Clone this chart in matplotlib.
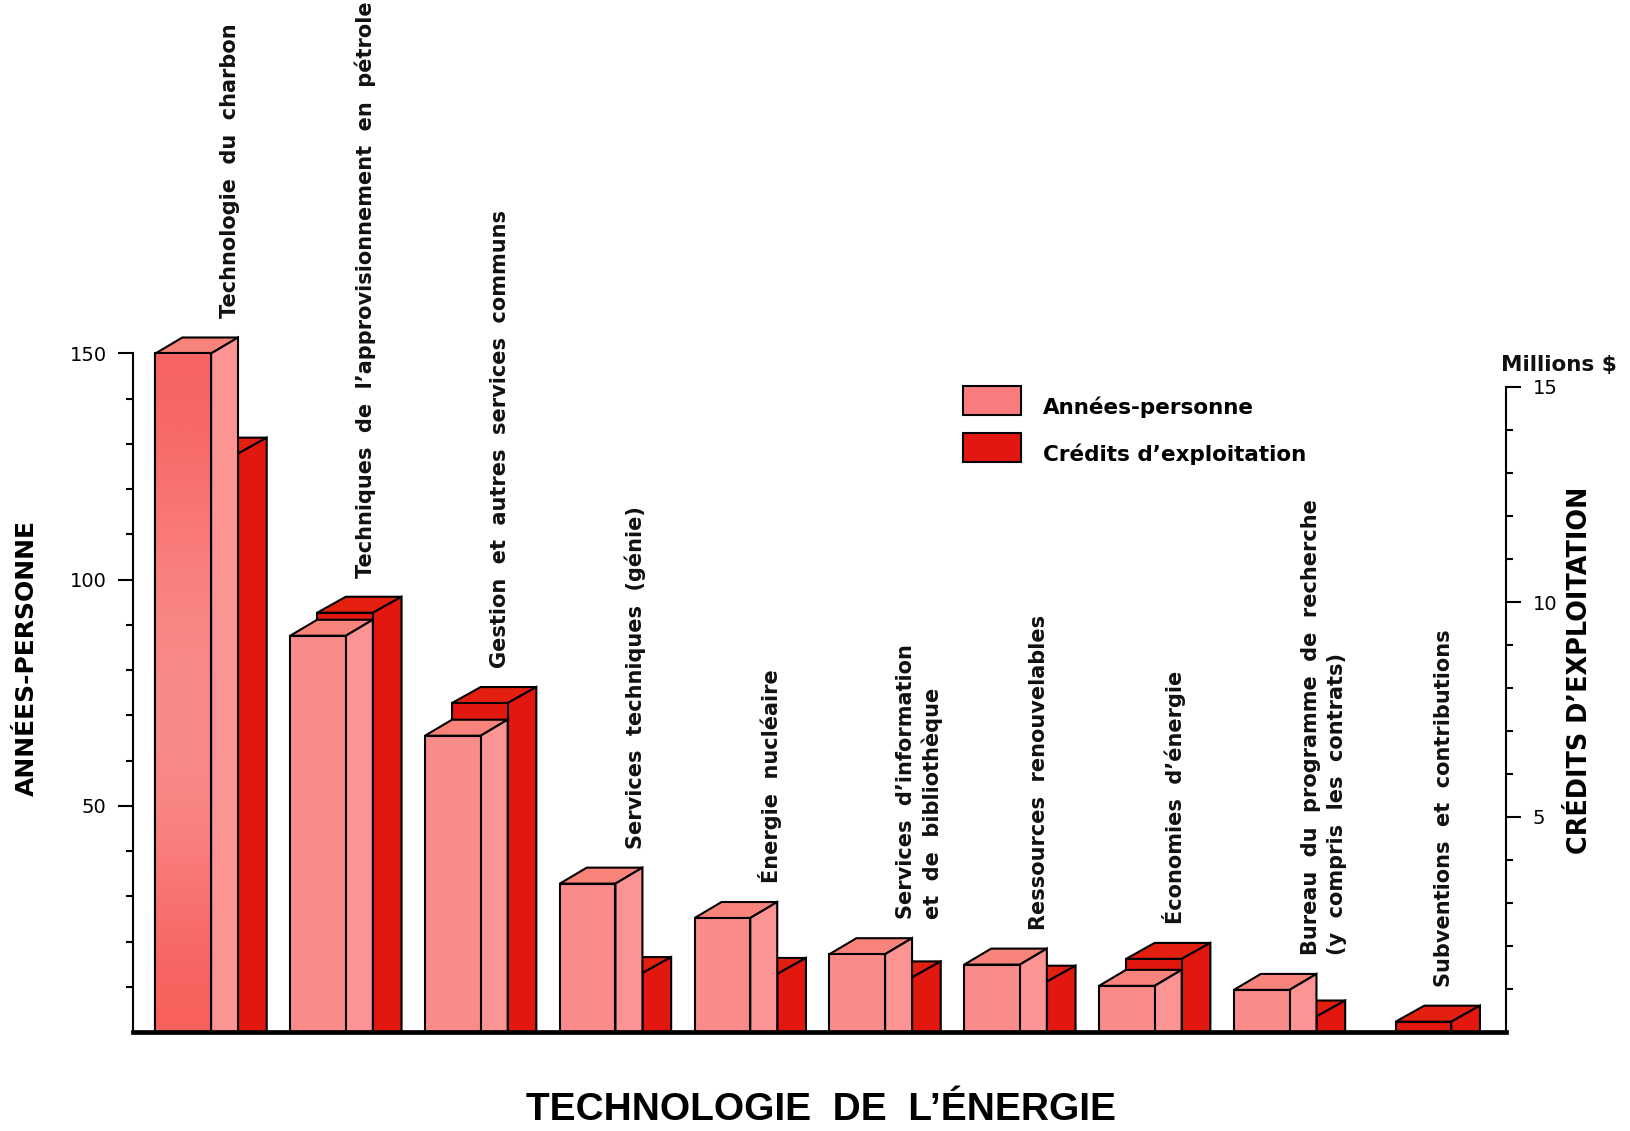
import matplotlib
matplotlib.use("Agg")
import matplotlib.pyplot as plt
import numpy as np
from matplotlib.patches import Patch, Polygon

W, H = 1630, 1131

labels = [
    "Technologie  du  charbon",
    "Techniques  de  l’approvisionnement  en  pétrole",
    "Gestion  et  autres  services  communs",
    "Services  techniques  (génie)",
    "Énergie  nucléaire",
    "Services  d’information\net  de  bibliothèque",
    "Ressources  renouvelables",
    "Économies  d’énergie",
    "Bureau  du  programme  de  recherche\n(y  compris  les  contrats)",
    "Subventions  et  contributions",
]
annees_personne = [150, 87.6, 65.5, 32.8, 25.2, 17.2, 14.9, 10.2, 9.3, 0]
credits_expl = [13.45, 9.75, 7.65, 1.37, 1.35, 1.27, 1.17, 1.7, 0.36, 0.24]

left_ticks = [50, 100, 150]
left_minor = [10, 20, 30, 40, 60, 70, 80, 90, 110, 120, 130, 140]
right_ticks = [5, 10, 15]
right_minor = [1, 2, 3, 4, 6, 7, 8, 9, 11, 12, 13, 14]

PINK_FRONT = "#f98c8b"
PINK_SIDE = "#fb9492"
PINK_TOP = "#f8837a"
RED = "#e2170f"
RED_TOP = "#e3200f"

# one group of bars is 1.0 on the x axis
bar_w = 0.413
dx = 0.2
dx_red = 0.213
offs = 0.2

fig = plt.figure(figsize=(W / 100, H / 100), dpi=100)
ax = fig.add_axes([133 / W, 1 - 1032 / H, (1506 - 133) / W, (1032 - 353.5) / H])
ax2 = ax.twinx()
ax.set_zorder(2)
ax.patch.set_visible(False)

xlim = (-0.166, 10.019)
ax.set_xlim(*xlim)
ax.set_ylim(0, 150)
ax2.set_ylim(0, 678.5 / 43.0)

dy_l = 16 / (678.5 / 150)
dy_r = 16 / 43.0


def draw_box(a, x0, val, w, dep_x, dep_y, front, side, top):
    y = val
    kw = dict(ec="black", lw=1.5, joinstyle="miter", clip_on=False)
    a.add_patch(Polygon([(x0, y), (x0 + dep_x, y + dep_y), (x0 + w + dep_x, y + dep_y), (x0 + w, y)], fc=top, **kw))
    a.add_patch(Polygon([(x0 + w, 0), (x0 + w + dep_x, 0), (x0 + w + dep_x, y + dep_y), (x0 + w, y)], fc=side, **kw))
    p = Polygon([(x0, 0), (x0 + w, 0), (x0 + w, y), (x0, y)], fc=front, **kw)
    a.add_patch(p)
    return p


for i in range(len(labels)):
    # red box stands right behind the pink one
    draw_box(ax2, i + offs, credits_expl[i], bar_w, dx_red, dy_r, RED, RED, RED_TOP)
    if annees_personne[i] > 0:
        p = draw_box(ax, i, annees_personne[i], bar_w, dx, dy_l, PINK_FRONT, PINK_SIDE, PINK_TOP)
        if i == 0:
            # the tallest bar is a stronger red at both ends
            g = np.array([[0.1], [0.75], [1.0], [0.9], [0.0]])
            cm = matplotlib.colors.LinearSegmentedColormap.from_list("f", ["#f75f5c", "#f98c8a"])
            im = ax.imshow(g, extent=(i, i + bar_w, 0, annees_personne[i]), aspect="auto", cmap=cm,
                           interpolation="bicubic", zorder=1.5, vmin=0, vmax=1)
            im.set_clip_path(p)
            ax.add_patch(Polygon(p.get_xy(), fc="none", ec="black", lw=1.5, zorder=2, clip_on=False))

ax.set_xlim(*xlim)
ax.set_ylim(0, 150)

# category names sit above the highest corner of each group
for i, txt in enumerate(labels):
    p1 = ax.transData.transform((i, annees_personne[i] + dy_l))[1] if annees_personne[i] > 0 else 0
    p2 = ax2.transData.transform((i, credits_expl[i] + dy_r))[1]
    top = max(p1, p2)
    y_txt = ax.transData.inverted().transform((0, top))[1]
    xoff = 90 if "\n" in txt else 75
    ax.annotate(txt, xy=(i, y_txt), xytext=(xoff * 0.72, 19 * 0.72), textcoords="offset points",
                rotation=90, ha="center", va="bottom", multialignment="left",
                fontsize=15, weight="bold", linespacing=1.35, annotation_clip=False, color="#111111")

for s in ["top", "right", "bottom"]:
    ax.spines[s].set_visible(False)
for s in ["top", "left", "bottom"]:
    ax2.spines[s].set_visible(False)
ax.spines["left"].set_linewidth(1.5)
ax.spines["left"].set_bounds(0, 150)
ax2.spines["right"].set_linewidth(1.5)
ax2.spines["right"].set_bounds(0, 15)

ax.set_xticks([])
ax2.set_xticks([])
ax.set_yticks(left_ticks)
ax.set_yticks(left_minor, minor=True)
ax2.set_yticks(right_ticks)
ax2.set_yticks(right_minor, minor=True)
ax.tick_params(axis="y", which="major", length=11, width=1.5, labelsize=14, pad=8)
ax.tick_params(axis="y", which="minor", length=5, width=1.5)
ax2.tick_params(axis="y", which="major", length=11, width=1.5, labelsize=14, pad=8)
ax2.tick_params(axis="y", which="minor", length=5, width=1.5)

# heavy ground line
ax.axhline(0, color="black", lw=3.4, clip_on=False, zorder=5)

fig.text(27 / W, 1 - 658 / H, "ANNÉES-PERSONNE", rotation=90, ha="center", va="center",
         weight="bold", fontsize=18)
fig.text(1580 / W, 1 - 670 / H, "CRÉDITS D’EXPLOITATION", rotation=90, ha="center", va="center",
         weight="bold", fontsize=18.4)
fig.text(1559 / W, 1 - 365 / H, "Millions $", ha="center", va="center", fontsize=15.5, weight="bold", color="#111111")
fig.text(821 / W, 1 - 1110 / H, "TECHNOLOGIE  DE  L’ÉNERGIE", ha="center", va="center",
         family="Liberation Sans", weight="bold", fontsize=28)

leg = ax.legend(handles=[Patch(fc="#f97d7e", ec="black", lw=1.5, label="Années-personne"),
                         Patch(fc=RED, ec="black", lw=1.5, label="Crédits d’exploitation")],
                loc="upper left", bbox_to_anchor=(963 / W, 1 - 386 / H), bbox_transform=fig.transFigure,
                frameon=False, prop=dict(size=15.5, weight="bold"), handlelength=2.7, handleheight=1.7,
                labelspacing=0.85, handletextpad=1.0, borderpad=0, borderaxespad=0)
for t in leg.get_texts():
    t.set_y(-6)

fig.savefig("out.png", dpi=100)
